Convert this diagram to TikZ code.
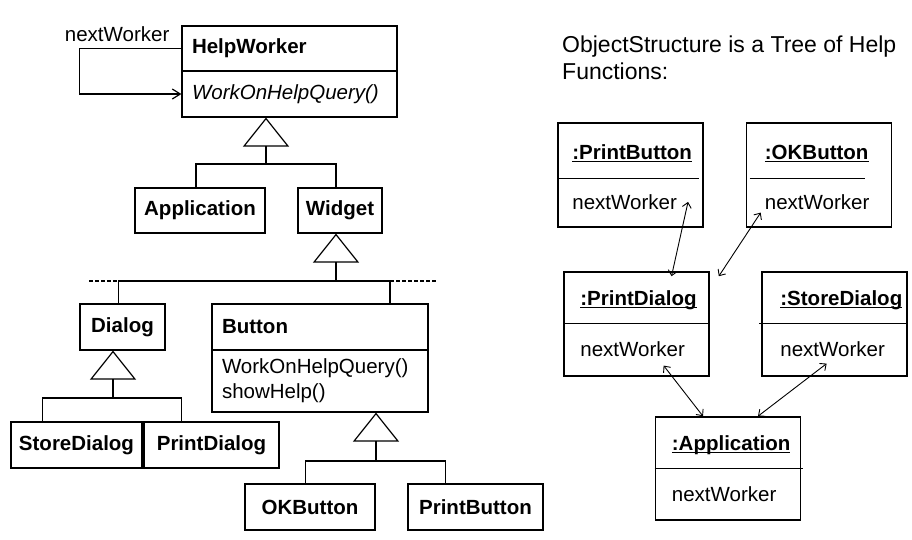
\documentclass[tikz,border=0pt]{standalone}
\usepackage{fontspec}
\setmainfont{Liberation Sans}
\usetikzlibrary{positioning,calc,arrows.meta}

\newcommand{\objtitle}[1]{\setbox0\hbox{\textbf{#1}}\rlap{\rule[-3pt]{\wd0}{1.6pt}}\box0}

\begin{document}
\begin{tikzpicture}[x=1pt, y=-1pt,
	cls/.style={draw, line width=1.2pt, minimum height=45pt},
	lcls/.style={cls, align=left, text width=#1, inner xsep=10pt},
	obj/.style={draw, line width=1.6pt, minimum width=145pt, minimum height=104pt},
	sep/.style={line width=0.9pt},
	link/.style={line width=1.2pt},
	inherit/.style={line width=1.2pt, -{Triangle[open, length=29pt, width=46pt]}},
	nav/.style={line width=0.9pt, <->, >={Straight Barb[length=5pt, width=9pt]}}]
	\useasboundingbox (0,0) rectangle (912,539);
	\begin{scope}
		\tikzstyle{every node}=[font=\fontsize{20.5}{25}\selectfont, inner sep=0pt]
		% class diagram
		\node[lcls=195pt] (hw) at (289.5,48.5) {\textbf{HelpWorker}};
		\node[lcls=195pt, minimum height=46pt] (hwops) at (289.5,94) {\textit{WorkOnHelpQuery()}};

		\node[cls, minimum width=130pt] (app)    at (200,210.5) {\textbf{Application}};
		\node[cls, minimum width=84pt]  (widget) at (340,210.5) {\textbf{Widget}};

		\node[cls, minimum width=85pt, minimum height=46pt] (dialog) at (122.5,327) {\textbf{Dialog}};
		\node[lcls=196pt, minimum height=46pt] (button) at (320,327) {\textbf{Button}};
		\node[lcls=196pt, minimum height=62pt] (buttonops) at (320,381) {WorkOnHelpQuery()\\showHelp()};

		\node[cls, minimum width=131pt, minimum height=46pt] (storedlg) at (76.5,445)  {\textbf{StoreDialog}};
		\node[cls, minimum width=135pt, minimum height=46pt] (printdlg) at (211.5,445) {\textbf{PrintDialog}};
		\node[cls, minimum width=130pt, minimum height=46pt] (okbtn)    at (310,507)   {\textbf{OKButton}};
		\node[cls, minimum width=135pt, minimum height=46pt] (printbtn) at (475.5,507) {\textbf{PrintButton}};

		\draw [link, ->, >={Straight Barb[length=8pt, width=10pt]}] (hw.west) -- node[pos=0.63, above=6pt] (nwlabel) {nextWorker} ++(-102,0) |- (hwops.west);

		\coordinate (hwbar) at (266,164);
		\draw [inherit] (hwbar) -- (hwbar |- hwops.south);
		\draw [link] ([xshift=-4pt]app.north) |- (hwbar) -| ([xshift=-4pt]widget.north);

		\coordinate (wbar)   at (336,281);
		\coordinate (wleft)  at (89,281);
		\coordinate (wright) at (437,281);
		\draw [inherit] (wbar) -- ([xshift=-4pt]widget.south);
		\draw [link] ([xshift=-4pt]dialog.north) |- (wbar) -| ([xshift=70pt]button.north);
		\draw [link, dash pattern=on 4pt off 2pt] (wleft) -- ([xshift=-4pt]dialog.north |- wbar);
		\draw [link, dash pattern=on 4pt off 2pt] ([xshift=70pt]button.north |- wbar) -- (wright);

		\coordinate (dbar) at (113,398);
		\draw [inherit] (dbar) -- (dbar |- dialog.south);
		\draw [link] ([xshift=32pt]storedlg.north west) |- (dbar) -| ([xshift=38pt]printdlg.north west);

		\coordinate (bbar) at (376,461);
		\draw [inherit] (bbar) -- (bbar |- buttonops.south);
		\draw [link] ([xshift=61pt]okbtn.north west) |- (bbar) -| ([xshift=38pt]printbtn.north west);

		% object structure
		\node[anchor=north west, align=left, font=\fontsize{23}{27}\selectfont] (title) at (562,36) {ObjectStructure is a Tree of Help\\Functions:};

		\node[obj] (opb) at (630.5,175) {};
		\node[obj] (ook) at (819,175) {};
		\node[obj] (opd) at (636.5,324) {};
		\node[obj] (osd) at (834.5,324) {};
		\node[obj, minimum height=103pt] (oapp) at (728,468.5) {};

		\node[anchor=base west] (opbt)  at ($(opb.north west)+(15,37)$) {\objtitle{:PrintButton}};
		\node[anchor=base west] (opbnw) at ($(opb.north west)+(15,87)$) {nextWorker};
		\node[anchor=base west] (ookt)  at ($(ook.north west)+(19,37)$) {\objtitle{:OKButton}};
		\node[anchor=base west] (ooknw) at ($(ook.north west)+(19,87)$) {nextWorker};
		\node[anchor=base west] (opdt)  at ($(opd.north west)+(17,34)$) {\objtitle{:PrintDialog}};
		\node[anchor=base west] (opdnw) at ($(opd.north west)+(17,85)$) {nextWorker};
		\node[anchor=base west] (osdt)  at ($(osd.north west)+(19,34)$) {\objtitle{:StoreDialog}};
		\node[anchor=base west] (osdnw) at ($(osd.north west)+(19,85)$) {nextWorker};
		\node[anchor=base west] (oappt)  at ($(oapp.north west)+(17,34)$) {\objtitle{:Application}};
		\node[anchor=base west] (oappnw) at ($(oapp.north west)+(17,85)$) {nextWorker};

		\draw [sep] ($(opb.north west)+(0,56)$)  -- ++(142,0);
		\draw [sep] ($(ook.north west)+(4,56)$)  -- ++(115,0);
		\draw [sep] ($(opd.north west)+(0,52)$)  -- ++(146,0);
		\draw [sep] ($(osd.north west)+(-2,52)$) -- ++(147,0);
		\draw [sep] ($(oapp.north west)+(0,52)$) -- ++(148,0);

		\draw [nav] ([xshift=11pt]opbnw.east) -- ([xshift=35pt, yshift=-5pt]opd.north);
		\draw [nav] ([xshift=-4pt, yshift=-3pt]ooknw.south west) -- ([xshift=9pt, yshift=-5pt]opd.north east);
		\draw [nav] ([xshift=31pt, yshift=-9pt]opdnw.south) -- ([xshift=-25pt]oapp.north);
		\draw [nav] ([xshift=-6pt, yshift=-7pt]osdnw.south) -- ([xshift=30pt]oapp.north);
	\end{scope}
\end{tikzpicture}
\end{document}
